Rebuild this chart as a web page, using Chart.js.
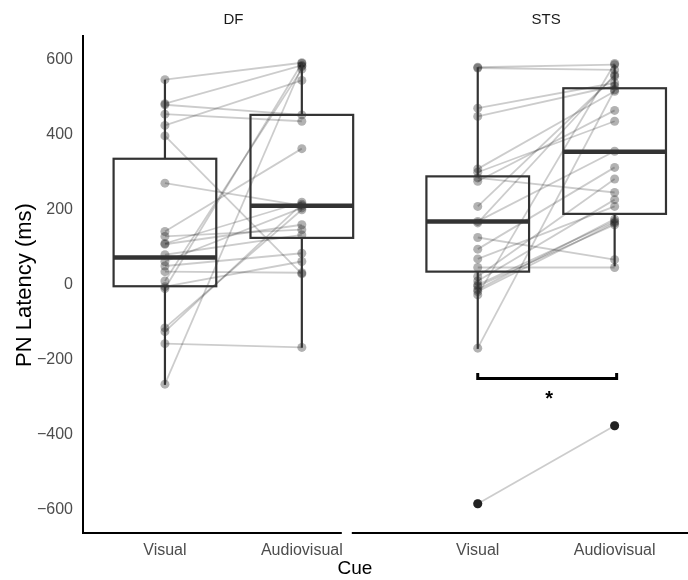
<!DOCTYPE html>
<html><head><meta charset="utf-8">
<script src="https://cdn.jsdelivr.net/npm/chart.js@4"></script>
<style>html,body{margin:0;padding:0;background:#fff}</style>
</head><body>
<canvas id="c" width="688" height="580"></canvas>
<script>
// ---- data ----
const facets = ['DF', 'STS'];
const cues = ['Visual', 'Audiovisual'];
const yTicks = [-600, -400, -200, 0, 200, 400, 600];

const dfVisual = [547, 483, 480, 455, 425, 397, 271, 142, 129, 110, 108, 80, 62, 50, 35, 10, -5, -10, -115, -125, -157, -265];
const dfAudio  = [592, 585, 453, 436, 545, 29, 211, 363, 147, 220, 160, 133, 205, 84, 32, 575, 62, 590, 200, 215, -167, 582];

const stsVisual = [580, 578, 471, 449, 309, 300, 285, 276, 209, 169, 165, 126, 95, 69, 46, 22, 10, 0, -4, -13, -18, -27, -169, -584];
const stsAudio  = [587, 573, 538, 530, 516, 436, 246, 465, 556, 356, 560, 67, 313, 209, 46, 282, 227, 169, 160, 175, 165, 590, 520, -376];

// box statistics per group: DF-Visual, DF-Audiovisual, STS-Visual, STS-Audiovisual
const boxMin    = [-267, -168, -171, 49];
const boxQ1     = [-4, 125, 35, 189];
const boxMedian = [73, 211, 169, 355];
const boxQ3     = [336, 453, 289, 524];
const boxMax    = [547, 592, 580, 587];
const outliers  = [[], [], [-584], [-376]];

// significance annotation (STS): bracket level, tip level, label
const sigBracket = [-250];
const sigTip = [-235];
const sigLabel = ['*'];

// ---- layout ----
const groupX = [1, 2, 3.285, 4.285];
const boxWidth = 0.75;
const xMin = 0.4015, xMax = 4.788, yMin = -662, yMax = 666;
const panelRanges = [[0.4015, 2.292], [2.365, null]];
const FONT = '"Liberation Sans", Arial, sans-serif';
const ptColor = 'rgba(0,0,0,0.3)';
const lnColor = 'rgba(0,0,0,0.2)';

const groups = [
  {v: dfVisual, a: dfAudio, xv: groupX[0], xa: groupX[1]},
  {v: stsVisual, a: stsAudio, xv: groupX[2], xa: groupX[3]}
];

const datasets = [];
groups.forEach(g => {
  datasets.push({type: 'scatter', data: g.v.map(v => ({x: g.xv, y: v})), backgroundColor: ptColor, borderWidth: 0, pointRadius: 4.5, order: 0});
  datasets.push({type: 'scatter', data: g.a.map(v => ({x: g.xa, y: v})), backgroundColor: ptColor, borderWidth: 0, pointRadius: 4.5, order: 0});
});
groups.forEach(g => {
  g.v.forEach((v, i) => {
    datasets.push({type: 'line', data: [{x: g.xv, y: v}, {x: g.xa, y: g.a[i]}], borderColor: lnColor, borderWidth: 1.8, pointRadius: 0, fill: false, order: 1});
  });
});

const decor = {
  id: 'decor',
  afterDatasetsDraw(chart) {
    const {ctx, scales: {x, y}, chartArea: a} = chart;
    const line = (x1, y1, x2, y2) => { ctx.beginPath(); ctx.moveTo(x1, y1); ctx.lineTo(x2, y2); ctx.stroke(); };
    ctx.save();
    ctx.strokeStyle = '#333';
    for (let i = 0; i < groupX.length; i++) {
      const cx = x.getPixelForValue(groupX[i]);
      const hw = x.getPixelForValue(groupX[i] + boxWidth / 2) - cx;
      const pMin = y.getPixelForValue(boxMin[i]), pQ1 = y.getPixelForValue(boxQ1[i]);
      const pMed = y.getPixelForValue(boxMedian[i]), pQ3 = y.getPixelForValue(boxQ3[i]);
      const pMax = y.getPixelForValue(boxMax[i]);
      ctx.lineWidth = 2.2;
      line(cx, pQ3, cx, pMax);
      line(cx, pQ1, cx, pMin);
      ctx.strokeRect(cx - hw, pQ3, 2 * hw, pQ1 - pQ3);
      ctx.lineWidth = 4.5;
      line(cx - hw, pMed, cx + hw, pMed);
      ctx.fillStyle = '#222';
      outliers[i].forEach(o => { ctx.beginPath(); ctx.arc(cx, y.getPixelForValue(o), 4.5, 0, Math.PI * 2); ctx.fill(); });
    }
    // significance bracket
    ctx.strokeStyle = '#000'; ctx.lineWidth = 3; ctx.lineJoin = 'miter';
    const bx1 = x.getPixelForValue(groupX[2]), bx2 = x.getPixelForValue(groupX[3]) + 2;
    const by = y.getPixelForValue(sigBracket[0]), bt = y.getPixelForValue(sigTip[0]);
    ctx.beginPath(); ctx.moveTo(bx1, bt); ctx.lineTo(bx1, by); ctx.lineTo(bx2, by); ctx.lineTo(bx2, bt); ctx.stroke();
    ctx.fillStyle = '#000'; ctx.font = 'bold 20px ' + FONT; ctx.textAlign = 'center'; ctx.textBaseline = 'middle';
    ctx.fillText(sigLabel[0], (bx1 + bx2) / 2 + 2, by + 21);
    // axes lines
    ctx.strokeStyle = '#000'; ctx.lineWidth = 2; ctx.lineCap = 'butt';
    line(a.left, a.top, a.left, a.bottom + 1);
    panelRanges.forEach(r => line(x.getPixelForValue(r[0]), a.bottom, r[1] === null ? chart.width : x.getPixelForValue(r[1]), a.bottom));
    // facet labels
    ctx.fillStyle = '#1a1a1a'; ctx.font = '15px ' + FONT; ctx.textBaseline = 'middle';
    facets.forEach((f, i) => {
      const c = (x.getPixelForValue(groupX[2 * i]) + x.getPixelForValue(groupX[2 * i + 1])) / 2;
      ctx.fillText(f, c, 20);
    });
    // axis titles
    ctx.fillStyle = '#000'; ctx.font = '19px ' + FONT;
    ctx.fillText('Cue', 355, 569);
    ctx.font = '22px ' + FONT;
    ctx.translate(25, (a.top + a.bottom) / 2 + 1);
    ctx.rotate(-Math.PI / 2);
    ctx.fillText('PN Latency (ms)', 0, 0);
    ctx.restore();
  }
};

new Chart(document.getElementById('c'), {
  type: 'scatter',
  data: {datasets},
  options: {
    responsive: false, animation: false, devicePixelRatio: 1, events: [],
    layout: {padding: {top: 35, right: 0, left: 0, bottom: 0}},
    plugins: {legend: {display: false}, tooltip: {enabled: false}},
    scales: {
      x: {
        type: 'linear', min: xMin, max: xMax,
        grid: {display: false, drawTicks: false}, border: {display: false},
        afterBuildTicks: s => { s.ticks = groupX.map(v => ({value: v})); },
        afterFit: s => { s.height = 47; },
        ticks: {color: '#4d4d4d', font: {size: 16, family: FONT}, padding: 8, autoSkip: false, maxRotation: 0,
          callback: (v, i) => cues[i % 2]}
      },
      y: {
        type: 'linear', min: yMin, max: yMax,
        grid: {display: false, drawTicks: false}, border: {display: false},
        afterBuildTicks: s => { s.ticks = yTicks.map(v => ({value: v})); },
        afterFit: s => { s.width = 83; },
        ticks: {color: '#4d4d4d', font: {size: 16, family: FONT}, padding: 10,
          callback: v => (v < 0 ? '\u2212' + Math.abs(v) : String(v))}
      }
    }
  },
  plugins: [decor]
});
</script>
</body></html>
